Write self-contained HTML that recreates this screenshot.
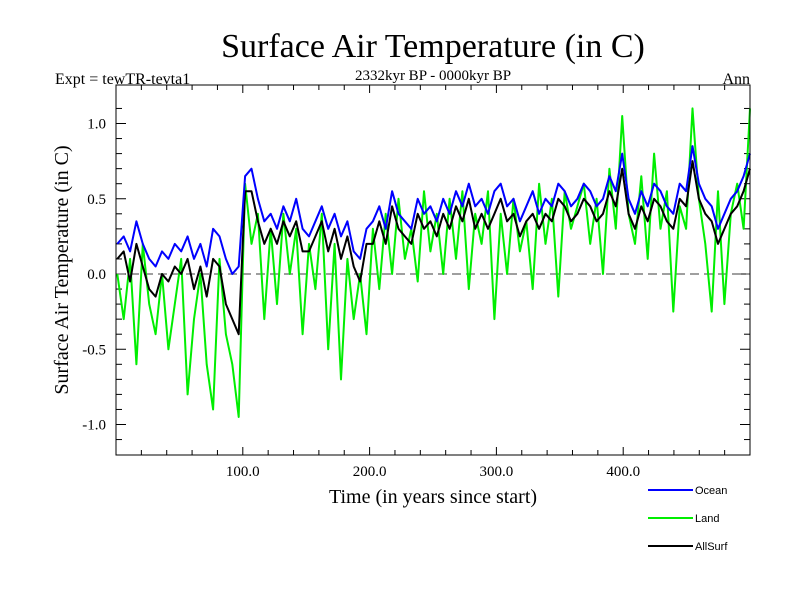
<!DOCTYPE html>
<html><head><meta charset="utf-8"><style>
body{margin:0;background:#fff}
svg{display:block;font-family:"Liberation Serif",serif}
</style></head><body>
<svg id="c" width="800" height="600" viewBox="0 0 800 600">
<text x="433" y="57" font-size="34" text-anchor="middle">Surface Air Temperature (in C)</text>
<text x="55" y="84" font-size="16">Expt = tewTR-tevta1</text>
<text x="433" y="80" font-size="15" text-anchor="middle">2332kyr BP - 0000kyr BP</text>
<text x="750" y="84" font-size="16" text-anchor="end">Ann</text>
<text transform="translate(68,270) rotate(-90)" font-size="20" text-anchor="middle">Surface Air Temperature (in C)</text>
<text x="433" y="503" font-size="20" text-anchor="middle">Time (in years since start)</text>
<g id="axes"></g>
<g id="series"></g>
<rect x="116" y="85" width="634" height="370" fill="none" stroke="#000" stroke-width="1"/>
<g font-family="Liberation Sans,sans-serif" font-size="11">
<g><line x1="648" y1="490" x2="693" y2="490" stroke="#0000ff" stroke-width="2"/><text x="695" y="494">Ocean</text></g>
<g><line x1="648" y1="518" x2="693" y2="518" stroke="#00ee00" stroke-width="2"/><text x="695" y="522">Land</text></g>
<g><line x1="648" y1="546" x2="693" y2="546" stroke="#000" stroke-width="2"/><text x="695" y="550">AllSurf</text></g>
</g>
</svg>
<script>
const ocean=[0.2,0.25,0.15,0.35,0.2,0.1,0.05,0.15,0.1,0.2,0.15,0.25,0.1,0.2,0.05,0.3,0.25,0.1,0.0,0.05,
0.65,0.7,0.5,0.35,0.4,0.3,0.45,0.35,0.5,0.3,0.25,0.35,0.45,0.3,0.4,0.25,0.35,0.15,0.1,0.3,
0.35,0.45,0.3,0.55,0.4,0.35,0.3,0.5,0.4,0.45,0.35,0.5,0.4,0.55,0.45,0.6,0.45,0.5,0.4,0.55,
0.6,0.45,0.5,0.35,0.45,0.55,0.4,0.5,0.45,0.6,0.55,0.45,0.5,0.6,0.55,0.45,0.5,0.65,0.55,0.8,
0.5,0.4,0.55,0.45,0.6,0.55,0.45,0.4,0.6,0.55,0.85,0.6,0.5,0.45,0.3,0.4,0.5,0.55,0.65,0.8];
const land=[0.0,-0.3,0.1,-0.6,0.2,-0.2,-0.4,0.0,-0.5,-0.2,0.1,-0.8,-0.3,0.0,-0.6,-0.9,0.1,-0.4,-0.6,-0.95,
0.6,0.2,0.4,-0.3,0.3,-0.2,0.4,0.0,0.3,-0.4,0.2,-0.1,0.4,-0.5,0.2,-0.7,0.1,-0.3,0.0,-0.4,
0.3,-0.1,0.4,0.0,0.5,0.1,0.3,-0.05,0.55,0.15,0.4,0.0,0.5,0.1,0.55,-0.1,0.4,0.2,0.55,-0.3,
0.4,0.0,0.5,0.15,0.35,-0.1,0.6,0.2,0.5,-0.15,0.55,0.3,0.45,0.6,0.2,0.5,0.0,0.7,0.3,1.05,
0.4,0.2,0.65,0.1,0.8,0.3,0.55,-0.25,0.45,0.3,1.1,0.5,0.2,-0.25,0.55,-0.2,0.4,0.6,0.3,1.1];
const allsurf=[0.1,0.15,-0.05,0.2,0.05,-0.1,-0.15,0.0,-0.05,0.05,0.0,0.1,-0.1,0.05,-0.15,0.1,0.05,-0.2,-0.3,-0.4,
0.55,0.55,0.35,0.2,0.3,0.2,0.35,0.25,0.35,0.15,0.15,0.25,0.35,0.15,0.3,0.1,0.25,0.05,-0.05,0.2,
0.2,0.35,0.2,0.45,0.3,0.25,0.2,0.4,0.3,0.35,0.25,0.4,0.3,0.45,0.35,0.5,0.3,0.4,0.3,0.4,
0.5,0.35,0.4,0.25,0.35,0.4,0.3,0.4,0.35,0.5,0.45,0.35,0.4,0.5,0.45,0.35,0.4,0.55,0.45,0.7,
0.4,0.3,0.45,0.35,0.5,0.45,0.35,0.3,0.5,0.45,0.75,0.5,0.4,0.35,0.2,0.3,0.4,0.45,0.55,0.7];
const xTicks=[100,200,300,400];
const xTickLabels=["100.0","200.0","300.0","400.0"];
const yTicks=[-1.0,-0.5,0.0,0.5,1.0];
const yTickLabels=["-1.0","-0.5","0.0","0.5","1.0"];
const X0=116,X1=750,Y0=85,Y1=455;
const xs=v=>X0+(v-0)/500*(X1-X0);
const ys=v=>274-v*150.5;
const NS="http://www.w3.org/2000/svg";
const ax=document.getElementById('axes'), sr=document.getElementById('series');
function mk(t,a,p){const e=document.createElementNS(NS,t);for(const k in a)e.setAttribute(k,a[k]);p.appendChild(e);return e;}
for(let v=20;v<500;v+=20){const maj=v%100===0,L=maj?8:5;
 mk('line',{x1:xs(v),x2:xs(v),y1:Y1,y2:Y1-L,stroke:'#000'},ax);
 mk('line',{x1:xs(v),x2:xs(v),y1:Y0,y2:Y0+L,stroke:'#000'},ax);}
for(let k=-11;k<=11;k++){const v=k/10,y=ys(v);if(y<Y0||y>Y1)continue;const maj=k%5===0,L=maj?10:6;
 mk('line',{x1:X0,x2:X0+L,y1:y,y2:y,stroke:'#000'},ax);
 mk('line',{x1:X1,x2:X1-L,y1:y,y2:y,stroke:'#000'},ax);}
xTicks.forEach((v,i)=>{const t=mk('text',{x:xs(v),y:Y1+21,'font-size':15,'text-anchor':'middle'},ax);t.textContent=xTickLabels[i];

});
yTicks.forEach((v,i)=>{const t=mk('text',{x:X0-10,y:ys(v)+5,'font-size':15,'text-anchor':'end'},ax);t.textContent=yTickLabels[i];

});
const zl=mk('line',{x1:X0,x2:X1,y1:ys(0),y2:ys(0),stroke:'#666','stroke-dasharray':'9,5','stroke-width':1.2},ax);


function line(arr,col,name){const pts=arr.map((v,i)=>xs(1+i*(499/(arr.length-1))).toFixed(1)+','+ys(v).toFixed(1)).join(' ');
 const p=mk('polyline',{points:pts,fill:'none',stroke:col,'stroke-width':2,'stroke-linejoin':'round'},sr);
 
 }
line(land,'#00ee00','land-series');
line(allsurf,'#000','allsurf-series');
line(ocean,'#0000ff','ocean-series');
</script>
</body></html>
